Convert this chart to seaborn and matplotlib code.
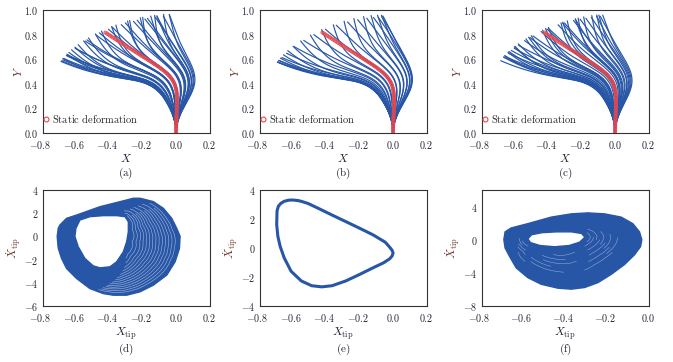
import numpy as np
import pandas as pd
import matplotlib
matplotlib.use("Agg")
import matplotlib.pyplot as plt
import seaborn as sns
from matplotlib.path import Path
from matplotlib.patches import PathPatch
from matplotlib.lines import Line2D
from matplotlib import transforms

sns.set_style("white")
plt.rcParams["mathtext.fontset"] = "cm"
plt.rcParams["font.family"] = ["cmr10", "DejaVu Serif"]
plt.rcParams["axes.unicode_minus"] = False

BLUE = "#2856a6"
RED = "#e5484f"
TICKC = "#222233"
LABC = "#6a3328"

# ---------------- data ----------------
# beam shape (angle from vertical along the arc length)
arc_nodes = [0, 0.1, 0.2, 0.3, 0.38, 0.45, 0.52, 0.6, 0.7, 0.8, 0.9, 1.0]
static_angle = [0, -0.03, -0.03, 0.02, 0.22, 0.50, 0.74, 0.84, 0.86, 0.86, 0.85, 0.84]
mode1_angle = [0, 0.42, 0.72, 0.85, 0.98, 1.05, 1.08, 1.00, 0.92, 0.85, 0.75, 0.62]
mode2_angle = [0, 0, 0, 0, 0, 0, 0, 0, 0.22, 0.65, 0.92, 1.00]

# snapshot modal amplitudes per panel
a_q1 = [0.52, 0.51, 0.48, 0.43, 0.34, 0.23, 0.12, 0.00, -0.12, -0.23, -0.33, -0.41, -0.46, -0.48,
        -0.44, -0.36, -0.26, -0.14, -0.02, 0.10, 0.22, 0.33, 0.42, 0.47, 0.50, 0.52,
        0.49, 0.43, 0.34, 0.22, 0.10, -0.02, -0.14, -0.25, -0.34, -0.40,
        -0.36, -0.27, -0.15, -0.02, 0.12, 0.26, 0.36, 0.43, 0.47, 0.46]
a_q2 = [-0.12, -0.12, -0.12, -0.12, -0.14, -0.15, -0.15, -0.14, -0.12, -0.10, -0.08, -0.10, -0.15, -0.25,
        -0.38, -0.50, -0.60, -0.68, -0.72, -0.72, -0.68, -0.62, -0.55, -0.46, -0.36, -0.24,
        -0.10, -0.10, -0.14, -0.18, -0.20, -0.20, -0.18, -0.14, -0.12, -0.18,
        -0.32, -0.46, -0.58, -0.66, -0.66, -0.62, -0.55, -0.46, -0.34, -0.18]

b_q1 = [0.52, 0.52, 0.50, 0.46, 0.40, 0.31, 0.21, 0.11, 0.00, -0.10, -0.20, -0.29, -0.37, -0.43, -0.47, -0.49, -0.48,
        -0.44, -0.38, -0.30, -0.21, -0.11, -0.01, 0.09, 0.19, 0.28, 0.36, 0.42, 0.46, 0.49, 0.51, 0.52, 0.53]
b_q2 = [-0.10, -0.10, -0.10, -0.10, -0.10, -0.12, -0.13, -0.14, -0.14, -0.13, -0.12, -0.10, -0.08, -0.06, -0.05, -0.08, -0.15,
        -0.25, -0.35, -0.45, -0.55, -0.62, -0.68, -0.70, -0.68, -0.62, -0.55, -0.47, -0.39, -0.30, -0.22, -0.16, -0.12]

c_q1 = [0.51, 0.47, 0.38, 0.24, 0.08, -0.08, -0.22, -0.33, -0.40, -0.36, -0.26, -0.12, 0.04, 0.20, 0.34,
        0.43, 0.48, 0.50, 0.45, 0.34, 0.18, 0.02, -0.14, -0.28, -0.38, -0.44, -0.42, -0.32, -0.18, -0.02,
        0.14, 0.28, 0.38, 0.45, 0.40, 0.28, 0.14, 0.00, -0.12, -0.20, -0.14, 0.00, 0.16, 0.30, 0.42, 0.50]
c_q2 = [-0.12, -0.14, -0.16, -0.20, -0.22, -0.20, -0.17, -0.14, -0.20, -0.40, -0.55, -0.65, -0.70, -0.68, -0.60,
        -0.50, -0.38, -0.24, -0.12, -0.14, -0.18, -0.20, -0.18, -0.15, -0.12, -0.16, -0.30, -0.48, -0.60, -0.68,
        -0.66, -0.58, -0.46, -0.32, -0.10, -0.10, -0.15, -0.18, -0.20, -0.30, -0.50, -0.62, -0.64, -0.56, -0.44, -0.30]

# phase portrait (d): outer boundary and inner hole of the torus band
d_outer_x = [-0.712, -0.706, -0.696, -0.656, -0.596, -0.456, -0.296, -0.256, -0.216, -0.136, -0.076, -0.026,
             0.004, 0.024, 0.020, -0.006, -0.056, -0.136, -0.216, -0.296, -0.376, -0.436, -0.516, -0.596,
             -0.656, -0.686, -0.706]
d_outer_v = [0.00, 0.69, 0.98, 1.56, 1.84, 2.56, 3.14, 3.29, 3.29, 3.00, 2.42, 1.56,
             0.69, 0.00, -1.04, -2.19, -3.34, -4.20, -4.78, -5.07, -5.07, -4.93, -4.50, -3.63,
             -2.77, -1.90, -1.00]
d_inner_x = [-0.606, -0.600, -0.576, -0.516, -0.436, -0.356, -0.306, -0.286, -0.286, -0.296, -0.316,
             -0.356, -0.396, -0.456, -0.496, -0.546, -0.586]
d_inner_v = [0.00, 0.69, 1.41, 1.70, 1.79, 1.79, 1.70, 1.27, 0.40, -0.46, -1.33,
             -2.19, -2.62, -2.71, -2.54, -1.90, -0.89]
# visible gaps between orbits in (d): relative level (hole edge 0, outer edge 1) and angular extent
d_gap_levels = [0.10, 0.17, 0.24, 0.30, 0.36, 0.42, 0.48, 0.54, 0.60, 0.66, 0.72, 0.78, 0.84, 0.90]
d_gap_from = [66, 70, 62, 72, 60, 68, 58, 66, 56, 64, 54, 62, 52, 58]
d_gap_to = [-55, -62, -68, -72, -76, -80, -82, -85, -87, -89, -90, -92, -93, -95]

# phase portrait (e): period-1 limit cycle
e_x = [-0.575, -0.600, -0.625, -0.652, -0.672, -0.687, -0.695, -0.697, -0.690, -0.676, -0.652, -0.611,
       -0.550, -0.488, -0.427, -0.365, -0.283, -0.200, -0.119, -0.057, -0.020, -0.006, 0.000, -0.006,
       -0.020, -0.047, -0.119, -0.200, -0.283, -0.365, -0.447, -0.509, -0.550, -0.575]
e_v = [3.28, 3.31, 3.30, 3.22, 3.08, 2.88, 2.55, 1.60, 0.80, 0.10, -0.68, -1.60,
       -2.27, -2.60, -2.68, -2.60, -2.27, -1.82, -1.36, -1.02, -0.74, -0.55, -0.34, -0.16,
       0.05, 0.40, 0.90, 1.36, 1.82, 2.27, 2.73, 3.07, 3.22, 3.28]

# phase portrait (f): chaotic band
f_outer_x = [-0.693, -0.687, -0.658, -0.578, -0.466, -0.370, -0.290, -0.210, -0.131, -0.075, -0.043,
             -0.032, -0.038, -0.067, -0.115, -0.179, -0.242, -0.306, -0.370, -0.434, -0.514, -0.578,
             -0.634, -0.666, -0.687]
f_outer_v = [0.00, 0.95, 1.42, 1.94, 2.73, 3.12, 3.24, 3.12, 2.73, 1.94, 0.95,
             0.00, -0.83, -1.82, -3.00, -4.19, -5.18, -5.77, -5.97, -5.85, -5.38, -4.58,
             -3.40, -2.00, -1.00]
f_inner_x = [-0.578, -0.560, -0.510, -0.440, -0.370, -0.320, -0.305, -0.330, -0.380, -0.450, -0.520, -0.565]
f_inner_v = [0.10, 0.60, 0.85, 0.95, 0.95, 0.75, 0.30, -0.30, -0.70, -0.85, -0.70, -0.35]
# short visible gaps in (f): relative level and angular extent (degrees)
f_gap_levels = [0.10, 0.16, 0.22, 0.28, 0.34, 0.40, 0.46, 0.52, 0.58, 0.64,
                0.20, 0.30, 0.40, 0.50, 0.60, 0.25, 0.35, 0.45, 0.55, 0.70]
f_gap_from = [30, 10, 40, 0, 25, -10, 15, -20, 5, -30, -60, -80, -70, -95, -85, -150, -160, -140, -130, -120]
f_gap_to = [-10, -30, 0, -40, -15, -50, -25, -60, -35, -70, -95, -110, -105, -120, -115, -175, -185, -165, -155, -140]

beam_xticks = [-0.8, -0.6, -0.4, -0.2, 0.0, 0.2]
beam_xlabels = ["-0.8", "-0.6", "-0.4", "-0.2", "0.0", "0.2"]
beam_yticks = [0.0, 0.2, 0.4, 0.6, 0.8, 1.0]
beam_ylabels = ["0.0", "0.2", "0.4", "0.6", "0.8", "1.0"]
d_yticks = [-6, -4, -2, 0, 2, 4]
e_yticks = [-4, -2, 0, 2, 4]
f_yticks = [-8, -4, 0, 4]
f_xticks = [-0.8, -0.6, -0.4, -0.2, 0.0]
f_xlabels = ["-0.8", "-0.6", "-0.4", "-0.2", "0.0"]
captions = ["(a)", "(b)", "(c)", "(d)", "(e)", "(f)"]

for p, q in [(a_q1, a_q2), (b_q1, b_q2), (c_q1, c_q2)]:
    assert len(p) == len(q)

# ---------------- helpers ----------------
S = np.linspace(0, 1, 160)


def beam_shape(q1, q2):
    th = (np.interp(S, arc_nodes, static_angle) + q1 * np.interp(S, arc_nodes, mode1_angle)
          + q2 * np.interp(S, arc_nodes, mode2_angle))
    ds = np.diff(S)
    thm = 0.5 * (th[1:] + th[:-1])
    x = np.concatenate([[0], np.cumsum(-np.sin(thm) * ds)])
    y = np.concatenate([[0], np.cumsum(np.cos(thm) * ds)])
    return x, y


def beams_frame(q1s, q2s):
    rows = []
    for i, (a, b) in enumerate(zip(q1s, q2s)):
        x, y = beam_shape(a, b)
        rows.append(pd.DataFrame({"x": x, "y": y, "beam": i}))
    return pd.concat(rows, ignore_index=True)


def style_axes(ax, xticks, xlabels, yticks, ylabels, xlim, ylim):
    ax.set_xlim(*xlim)
    ax.set_ylim(*ylim)
    ax.set_xticks(xticks)
    ax.set_xticklabels(["$" + t + "$" for t in xlabels])
    ax.set_yticks(yticks)
    ax.set_yticklabels(["$" + t + "$" for t in ylabels])
    ax.tick_params(direction="in", length=3, width=0.6, colors="#444444", labelcolor=TICKC,
                   labelsize=7.2, top=False, right=False)
    ax.tick_params(axis="x", pad=4)
    ax.tick_params(axis="y", pad=3)
    for sp in ax.spines.values():
        sp.set_color("#333333")
        sp.set_linewidth(0.8)
    fig = ax.figure
    for lab, t in zip(ax.get_xticklabels(), xlabels):
        if t.startswith("-"):
            lab.set_transform(lab.get_transform() + transforms.ScaledTranslation(-0.02, 0, fig.dpi_scale_trans))


def ylab_text(ticks):
    return [str(v) if v >= 0 else "-" + str(-v) for v in ticks]


def annulus(ax, ox, ov, ix, iv):
    outer = np.column_stack([ox, ov])
    inner = np.column_stack([ix, iv])

    def area(p):
        return 0.5 * np.sum(p[:, 0] * np.roll(p[:, 1], -1) - np.roll(p[:, 0], -1) * p[:, 1])
    if np.sign(area(outer)) == np.sign(area(inner)):
        inner = inner[::-1]
    verts = np.concatenate([outer, outer[:1], inner, inner[:1]])
    codes = ([Path.MOVETO] + [Path.LINETO] * (len(outer) - 1) + [Path.CLOSEPOLY]
             + [Path.MOVETO] + [Path.LINETO] * (len(inner) - 1) + [Path.CLOSEPOLY])
    ax.add_patch(PathPatch(Path(verts, codes), facecolor=BLUE, edgecolor=BLUE, lw=1.0,
                           joinstyle="round"))


def polar_profile(xs, vs, cx, cv, sv):
    u = np.asarray(xs) - cx
    w = (np.asarray(vs) - cv) / sv
    ang = np.arctan2(w, u)
    r = np.hypot(u, w)
    o = np.argsort(ang)
    ang, r = ang[o], r[o]
    return np.concatenate([ang - 2 * np.pi, ang, ang + 2 * np.pi]), np.tile(r, 3)


def gap_arcs(ax, ox, ov, ix, iv, cx, cv, sv, levels, froms, tos, lw=0.4, alpha=0.6):
    ao, ro = polar_profile(ox, ov, cx, cv, sv)
    ai, ri = polar_profile(ix, iv, cx, cv, sv)
    for lev, a0, a1 in zip(levels, froms, tos):
        phi = np.radians(np.linspace(a0, a1, 60))
        r = np.interp(phi, ai, ri) + lev * (np.interp(phi, ao, ro) - np.interp(phi, ai, ri))
        ax.plot(cx + r * np.cos(phi), cv + sv * r * np.sin(phi), color="white", lw=lw, alpha=alpha,
                solid_capstyle="round", zorder=3)


# ---------------- figure ----------------
W, H = 673, 362
fig = plt.figure(figsize=(W / 100, H / 100), dpi=100)
col_left = [42.5, 259.5, 481.5]
col_w = 167
top_row = (10, 133)
bot_row = (190, 306)


def make_ax(c, row):
    t, b = row
    return fig.add_axes([col_left[c] / W, 1 - b / H, col_w / W, (b - t) / H])


static_x, static_y = beam_shape(0.0, 0.0)
for c, (q1s, q2s) in enumerate([(a_q1, a_q2), (b_q1, b_q2), (c_q1, c_q2)]):
    ax = make_ax(c, top_row)
    df = beams_frame(q1s, q2s)
    sns.lineplot(data=df, x="x", y="y", units="beam", estimator=None, sort=False,
                 color=BLUE, lw=0.85, ax=ax, legend=False)
    sel = slice(0, None, 2)
    ax.plot(static_x, static_y, color=RED, lw=1.3, alpha=0.5, zorder=3, solid_capstyle="round")
    sns.scatterplot(x=static_x[sel], y=static_y[sel], marker="o", s=5, facecolor="none",
                    edgecolor=RED, linewidth=0.6, ax=ax, zorder=4, legend=False)
    style_axes(ax, beam_xticks, beam_xlabels, beam_yticks, beam_ylabels, (-0.8, 0.2), (0, 1.0))
    ax.set_xlabel("$X$", fontsize=8.5, color=TICKC, labelpad=1)
    ax.set_ylabel("$Y$", fontsize=8.5, color=LABC, labelpad=0)
    h = Line2D([], [], marker="o", ls="none", mfc="none", mec=RED, ms=3.5, mew=0.8)
    ax.legend([h], [r"$\mathrm{Static\ deformation}$"], loc="center left", bbox_to_anchor=(0.0, 0.115),
              frameon=False, handlelength=0.7, handletextpad=0.25, borderaxespad=0.0, borderpad=0.0,
              fontsize=7.5)
    ax.text(0.5, -0.27, r"$\mathrm{" + captions[c] + "}$", transform=ax.transAxes, ha="center", va="top",
            fontsize=8, color=TICKC)

# (d)
ax_d = make_ax(0, bot_row)
annulus(ax_d, d_outer_x, d_outer_v, d_inner_x, d_inner_v)
gap_arcs(ax_d, d_outer_x, d_outer_v, d_inner_x, d_inner_v, -0.42, -0.5, 8.0,
         d_gap_levels, d_gap_from, d_gap_to, lw=0.4, alpha=0.6)
style_axes(ax_d, beam_xticks, beam_xlabels, d_yticks, ylab_text(d_yticks), (-0.8, 0.2), (-6, 4))
# (e)
ax_e = make_ax(1, bot_row)
sns.lineplot(x=e_x, y=e_v, sort=False, estimator=None, color=BLUE, lw=2.2, ax=ax_e)
style_axes(ax_e, beam_xticks, beam_xlabels, e_yticks, ylab_text(e_yticks), (-0.8, 0.2), (-4, 4))
# (f)
ax_f = make_ax(2, bot_row)
annulus(ax_f, f_outer_x, f_outer_v, f_inner_x, f_inner_v)
gap_arcs(ax_f, f_outer_x, f_outer_v, f_inner_x, f_inner_v, -0.44, 0.0, 10.0,
         f_gap_levels, f_gap_from, f_gap_to, lw=0.35, alpha=0.55)
style_axes(ax_f, f_xticks, f_xlabels, f_yticks, ylab_text(f_yticks), (-0.8, 0.0), (-8, 6))

for i, ax in enumerate([ax_d, ax_e, ax_f]):
    ax.set_xlabel(r"$X_{\mathrm{tip}}$", fontsize=8.5, color=TICKC, labelpad=1)
    ax.set_ylabel(r"$\dot{X}_{\mathrm{tip}}$", fontsize=8.5, color=LABC, labelpad=0)
    ax.text(0.5, -0.31, r"$\mathrm{" + captions[3 + i] + "}$", transform=ax.transAxes, ha="center",
            va="top", fontsize=8, color=TICKC)

fig.savefig("out.png", dpi=100)
